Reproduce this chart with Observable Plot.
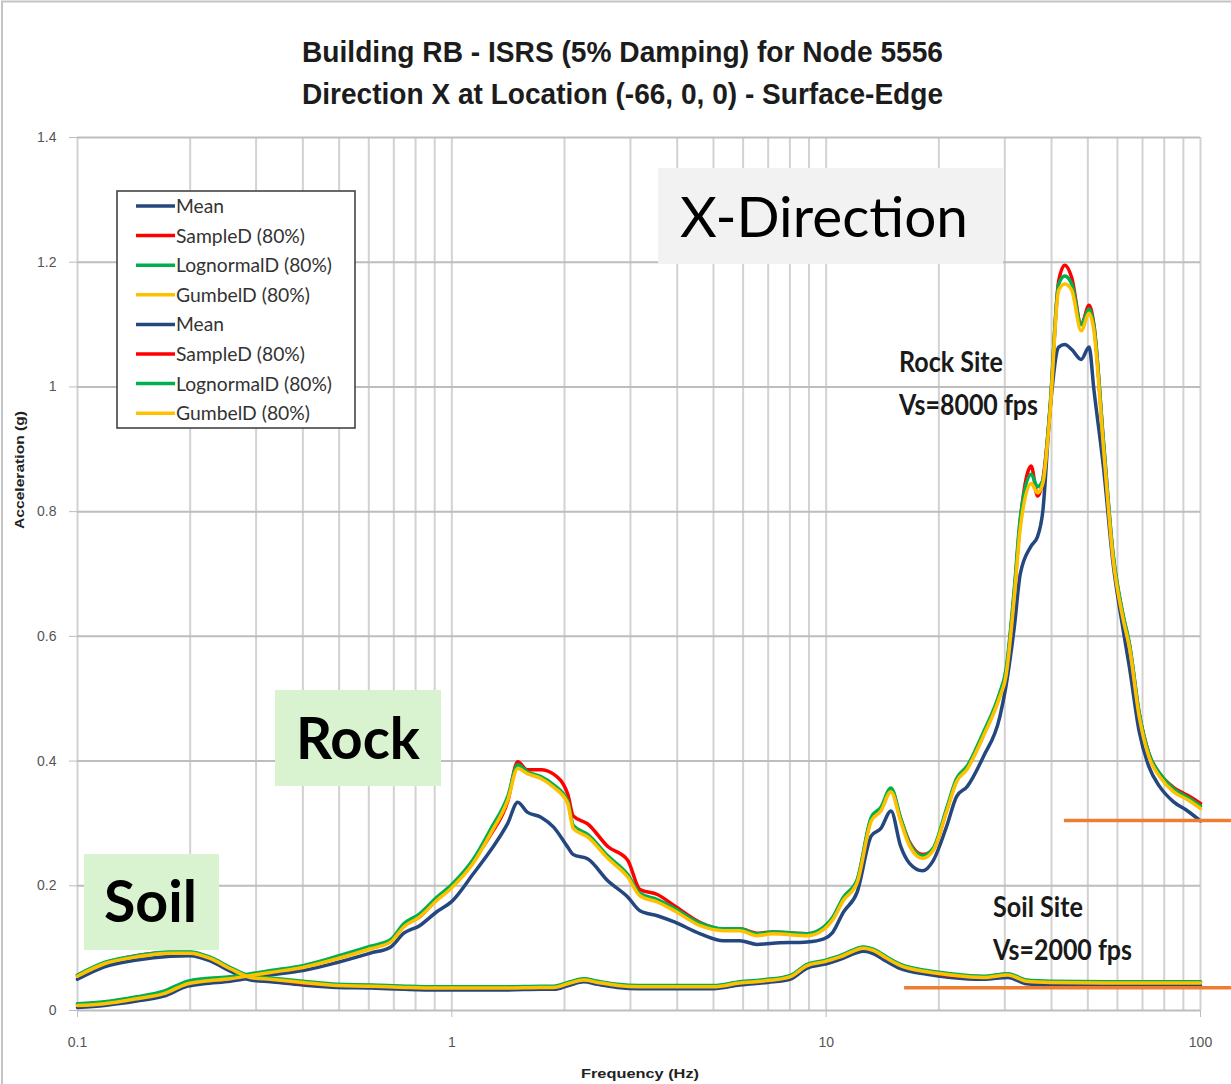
<!DOCTYPE html>
<html>
<head>
<meta charset="utf-8">
<script src="https://cdn.jsdelivr.net/npm/d3@7"></script>
<script src="https://cdn.jsdelivr.net/npm/@observablehq/plot@0.6"></script>
<style>
  html, body { margin: 0; padding: 0; background: #ffffff; }
  #chart { position: relative; width: 1231px; height: 1084px; overflow: hidden; background: #fff; }
</style>
</head>
<body>
<div id="chart"></div>
<script>
// ---------------- DATA ----------------
const seriesNames = ["Mean", "SampleD (80%)", "LognormalD (80%)", "GumbelD (80%)"];
const seriesColors = ["#24477f", "#ff0000", "#00b050", "#ffc000"];

// Rock site (Vs=8000 fps)
const rockFreq = [0.1, 0.118, 0.144, 0.17, 0.197, 0.217, 0.256, 0.29, 0.328, 0.4,
  0.494, 0.606, 0.687, 0.744, 0.82, 0.91, 1.0, 1.14, 1.27, 1.41,
  1.5, 1.59, 1.73, 1.87, 2.04, 2.11, 2.31, 2.61, 2.95, 3.18,
  3.54, 3.93, 4.61, 5.31, 5.88, 6.53, 7.21, 8.9, 9.86, 10.4,
  11.1, 12.1, 13.2, 14.0, 14.9, 15.8, 16.7, 18.1, 19.3, 21.0,
  22.3, 23.8, 26.3, 29.1, 30.2, 31.8, 33.0, 35.3, 36.7, 37.9,
  39.6, 41.8, 43.4, 45.3, 48.0, 50.4, 51.9, 55.1, 58.4, 62.0,
  64.6, 68.6, 72.8, 77.8, 84.6, 92.4, 100];
const rockMean = [0.005, 0.008, 0.015, 0.023, 0.039, 0.043, 0.047, 0.052, 0.057, 0.064,
  0.077, 0.092, 0.102, 0.124, 0.136, 0.158, 0.175, 0.219, 0.257, 0.300,
  0.334, 0.318, 0.310, 0.294, 0.262, 0.250, 0.243, 0.208, 0.182, 0.160,
  0.152, 0.142, 0.123, 0.112, 0.112, 0.106, 0.108, 0.110, 0.115, 0.125,
  0.157, 0.190, 0.280, 0.292, 0.320, 0.264, 0.236, 0.224, 0.240, 0.296,
  0.343, 0.359, 0.407, 0.471, 0.519, 0.614, 0.700, 0.745, 0.760, 0.800,
  0.960, 1.064, 1.068, 1.060, 1.044, 1.064, 0.996, 0.869, 0.717, 0.614,
  0.550, 0.447, 0.391, 0.359, 0.335, 0.320, 0.304];
const rockSample = [0.010, 0.013, 0.021, 0.029, 0.045, 0.049, 0.052, 0.057, 0.062, 0.071,
  0.085, 0.100, 0.111, 0.136, 0.150, 0.178, 0.198, 0.240, 0.282, 0.335,
  0.399, 0.386, 0.386, 0.379, 0.347, 0.312, 0.299, 0.263, 0.241, 0.194,
  0.186, 0.168, 0.141, 0.130, 0.131, 0.124, 0.126, 0.123, 0.133, 0.147,
  0.179, 0.208, 0.307, 0.322, 0.354, 0.308, 0.270, 0.250, 0.258, 0.322,
  0.369, 0.389, 0.442, 0.508, 0.540, 0.670, 0.785, 0.873, 0.825, 0.850,
  0.962, 1.170, 1.195, 1.175, 1.100, 1.131, 1.100, 0.908, 0.730, 0.635,
  0.586, 0.476, 0.412, 0.380, 0.358, 0.345, 0.332];
const rockLognormal = [0.011, 0.014, 0.022, 0.031, 0.047, 0.051, 0.054, 0.059, 0.064, 0.072,
  0.087, 0.103, 0.114, 0.139, 0.155, 0.181, 0.202, 0.242, 0.291, 0.343,
  0.394, 0.383, 0.375, 0.362, 0.336, 0.297, 0.282, 0.248, 0.218, 0.188,
  0.178, 0.164, 0.140, 0.131, 0.131, 0.123, 0.126, 0.123, 0.134, 0.149,
  0.181, 0.210, 0.310, 0.326, 0.357, 0.309, 0.268, 0.248, 0.260, 0.325,
  0.372, 0.392, 0.446, 0.510, 0.545, 0.675, 0.790, 0.860, 0.840, 0.850,
  0.965, 1.165, 1.178, 1.165, 1.100, 1.125, 1.098, 0.910, 0.733, 0.637,
  0.588, 0.477, 0.412, 0.380, 0.356, 0.342, 0.328];
const rockGumbel = [0.008, 0.011, 0.019, 0.027, 0.043, 0.047, 0.051, 0.056, 0.061, 0.069,
  0.083, 0.099, 0.110, 0.134, 0.150, 0.176, 0.197, 0.236, 0.284, 0.337,
  0.388, 0.380, 0.372, 0.358, 0.332, 0.292, 0.278, 0.244, 0.214, 0.184,
  0.174, 0.160, 0.136, 0.128, 0.128, 0.120, 0.123, 0.120, 0.130, 0.145,
  0.176, 0.205, 0.304, 0.320, 0.351, 0.304, 0.264, 0.244, 0.256, 0.320,
  0.367, 0.387, 0.440, 0.503, 0.535, 0.662, 0.773, 0.845, 0.830, 0.845,
  0.956, 1.155, 1.165, 1.155, 1.090, 1.118, 1.090, 0.900, 0.725, 0.630,
  0.582, 0.471, 0.407, 0.375, 0.351, 0.338, 0.324];

// Soil site (Vs=2000 fps)
const soilFreq = [0.1, 0.118, 0.144, 0.177, 0.2, 0.227, 0.256, 0.29, 0.328, 0.4,
  0.494, 0.606, 0.75, 0.91, 1.12, 1.4, 1.73, 1.87, 2.07, 2.25,
  2.45, 2.77, 3.18, 3.93, 5.0, 5.88, 6.98, 8.0, 8.9, 9.86,
  10.9, 12.6, 13.4, 14.4, 15.8, 18.6, 21.5, 26.3, 30.6, 34.3,
  40, 60, 100];
const soilMean = [0.050, 0.070, 0.081, 0.087, 0.088, 0.079, 0.063, 0.049, 0.046, 0.041,
  0.037, 0.036, 0.034, 0.033, 0.033, 0.033, 0.034, 0.034, 0.041, 0.046,
  0.042, 0.037, 0.035, 0.035, 0.035, 0.041, 0.045, 0.050, 0.068, 0.074,
  0.082, 0.095, 0.091, 0.080, 0.067, 0.058, 0.053, 0.050, 0.053, 0.043,
  0.041, 0.040, 0.040];
const soilSample = [0.056, 0.076, 0.088, 0.093, 0.093, 0.084, 0.068, 0.054, 0.051, 0.044,
  0.041, 0.040, 0.038, 0.037, 0.037, 0.037, 0.038, 0.038, 0.045, 0.050,
  0.046, 0.041, 0.039, 0.039, 0.039, 0.045, 0.049, 0.055, 0.073, 0.079,
  0.087, 0.101, 0.097, 0.086, 0.073, 0.063, 0.056, 0.054, 0.058, 0.048,
  0.045, 0.045, 0.045];
const soilLognormal = [0.057, 0.077, 0.088, 0.094, 0.094, 0.085, 0.069, 0.055, 0.052, 0.047,
  0.042, 0.041, 0.039, 0.038, 0.038, 0.038, 0.039, 0.039, 0.046, 0.051,
  0.047, 0.042, 0.040, 0.040, 0.040, 0.046, 0.050, 0.056, 0.074, 0.080,
  0.088, 0.102, 0.098, 0.087, 0.074, 0.064, 0.059, 0.055, 0.059, 0.049,
  0.047, 0.046, 0.046];
const soilGumbel = [0.055, 0.075, 0.086, 0.092, 0.092, 0.083, 0.067, 0.053, 0.050, 0.045,
  0.040, 0.039, 0.037, 0.036, 0.036, 0.036, 0.037, 0.037, 0.044, 0.049,
  0.045, 0.040, 0.038, 0.038, 0.038, 0.044, 0.048, 0.054, 0.072, 0.078,
  0.086, 0.100, 0.096, 0.085, 0.072, 0.062, 0.057, 0.053, 0.057, 0.047,
  0.045, 0.044, 0.044];

// Axis ticks
const xTicks = [0.1, 1, 10, 100];
const yTicks = [0, 0.2, 0.4, 0.6, 0.8, 1.0, 1.2, 1.4];

// Reference (orange) lines drawn on the chart
const refLineLevel = [0.304, 0.0358];
const refLineStart = [43.3, 16.2];
const refLineEnd = [121, 121];

// ---------------- BUILD ----------------
const groups = [
  {site: "Rock", freq: rockFreq, series: [rockMean, rockSample, rockLognormal, rockGumbel]},
  {site: "Soil", freq: soilFreq, series: [soilMean, soilSample, soilLognormal, soilGumbel]}
];
const rows = [];
groups.forEach(g => g.series.forEach((vals, s) => vals.forEach((v, i) => rows.push({site: g.site, s, f: g.freq[i], a: v}))));

const xGrid = [];
[0.1, 1, 10].forEach(d => { for (let k = 1; k <= 9; k++) xGrid.push(+(d * k).toPrecision(3)); });
xGrid.push(100);

const refLines = refLineLevel.map((a, i) => ({a, f1: refLineStart[i], f2: refLineEnd[i]}));

const lineMarks = seriesColors.map((c, s) =>
  Plot.line(rows.filter(r => r.s === s), {x: "f", y: "a", z: "site", stroke: c, strokeWidth: 3.5, curve: "monotone-x"})
);

const svg = Plot.plot({
  width: 1231,
  height: 1084,
  marginTop: 137,
  marginBottom: 74,
  marginLeft: 77,
  marginRight: 31,
  style: {fontFamily: "'Liberation Sans', Arial, sans-serif", fontSize: "14px", background: "transparent", overflow: "visible"},
  x: {type: "log", domain: [0.1, 100]},
  y: {domain: [0, 1.4]},
  marks: [
    Plot.ruleX(xGrid, {stroke: "#d2d2d2", strokeWidth: 2}),
    Plot.ruleY(yTicks, {stroke: "#bdbdbd", strokeWidth: 2}),
    Plot.axisX(xTicks, {tickSize: 7, tickPadding: 20, tickFormat: d => String(d), stroke: "#bdbdbd", fill: "#555", fontSize: 14, label: null}),
    Plot.axisY(yTicks, {tickSize: 8, tickPadding: 13, tickFormat: d => String(+d.toFixed(1)), stroke: "#bdbdbd", fill: "#555", fontSize: 14, label: null}),
    ...lineMarks
  ]
});
document.getElementById("chart").append(svg);

// ---------------- ANNOTATIONS ----------------
const root = d3.select(svg);
function txt(str, x, y, o = {}) {
  const t = root.append("text")
    .attr("x", x).attr("y", y)
    .attr("font-family", o.family || "'Liberation Sans', Arial, sans-serif")
    .attr("font-size", o.size || 13)
    .attr("font-weight", o.weight || "normal")
    .attr("fill", o.fill || "#111")
    .attr("text-anchor", o.anchor || "start")
    .text(str);
  if (o.len) t.attr("textLength", o.len).attr("lengthAdjust", "spacingAndGlyphs");
  if (o.rotate) t.attr("transform", `rotate(${o.rotate},${x},${y})`);
  return t;
}

// outer frame (top & left edges visible)
root.append("path").attr("d", "M2,1240 L2,1.5 L1240,1.5").attr("fill", "none").attr("stroke", "#c4c4c4").attr("stroke-width", 2);

// Title
txt("Building RB - ISRS (5% Damping) for Node 5556", 302, 62, {size: 30, weight: "bold", len: 641, fill: "#1c1c1c"});
txt("Direction X at Location (-66, 0, 0) - Surface-Edge", 302, 104, {size: 30, weight: "bold", len: 641, fill: "#1c1c1c"});

// Axis titles
txt("Acceleration (g)", 24, 470, {size: 12, weight: "bold", len: 118, anchor: "middle", rotate: -90, fill: "#222"});
txt("Frequency (Hz)", 640, 1078, {size: 13, weight: "bold", len: 118, anchor: "middle", fill: "#222"});

// Legend
const legendFont = "Lato, 'Open Sans', sans-serif";
root.append("rect").attr("x", 117).attr("y", 191).attr("width", 238).attr("height", 237)
  .attr("fill", "#fff").attr("stroke", "#444").attr("stroke-width", 1.6);
const legendLens = [48, 129, 156, 134];
for (let i = 0; i < 8; i++) {
  const s = i % 4;
  const cy = 206 + i * 29.6;
  root.append("line").attr("x1", 136).attr("x2", 175).attr("y1", cy).attr("y2", cy)
    .attr("stroke", seriesColors[s]).attr("stroke-width", 3.5);
  txt(seriesNames[s], 176, cy + 7, {family: legendFont, size: 20, len: legendLens[s], fill: "#333"});
}

// Text boxes
root.append("rect").attr("x", 658).attr("y", 168).attr("width", 345).attr("height", 96).attr("fill", "#f2f2f2");
txt("X-Direction", 680, 237, {family: legendFont, size: 57, len: 288, fill: "#000"});
root.append("rect").attr("x", 275).attr("y", 690).attr("width", 166).attr("height", 96).attr("fill", "#d9f2d0");
txt("Rock", 296, 759, {family: legendFont, size: 57, weight: "bold", len: 124, fill: "#000"});
root.append("rect").attr("x", 84).attr("y", 854).attr("width", 135).attr("height", 96).attr("fill", "#d9f2d0");
txt("Soil", 104, 922, {family: legendFont, size: 57, weight: "bold", len: 93, fill: "#000"});

txt("Rock Site", 899, 372, {family: legendFont, size: 28, weight: "bold", len: 104, fill: "#1a1a1a"});
txt("Vs=8000 fps", 899, 415, {family: legendFont, size: 28, weight: "bold", len: 139, fill: "#1a1a1a"});
txt("Soil Site", 993, 917, {family: legendFont, size: 28, weight: "bold", len: 90, fill: "#1a1a1a"});
txt("Vs=2000 fps", 993, 960, {family: legendFont, size: 28, weight: "bold", len: 139, fill: "#1a1a1a"});

// Orange reference lines through the library's scales
const xs = svg.scale("x"), ys = svg.scale("y");
refLines.forEach(r => {
  root.append("line")
    .attr("x1", xs.apply(r.f1)).attr("x2", xs.apply(r.f2))
    .attr("y1", ys.apply(r.a)).attr("y2", ys.apply(r.a))
    .attr("stroke", "#ed7d31").attr("stroke-width", 3.5);
});
</script>
</body>
</html>
